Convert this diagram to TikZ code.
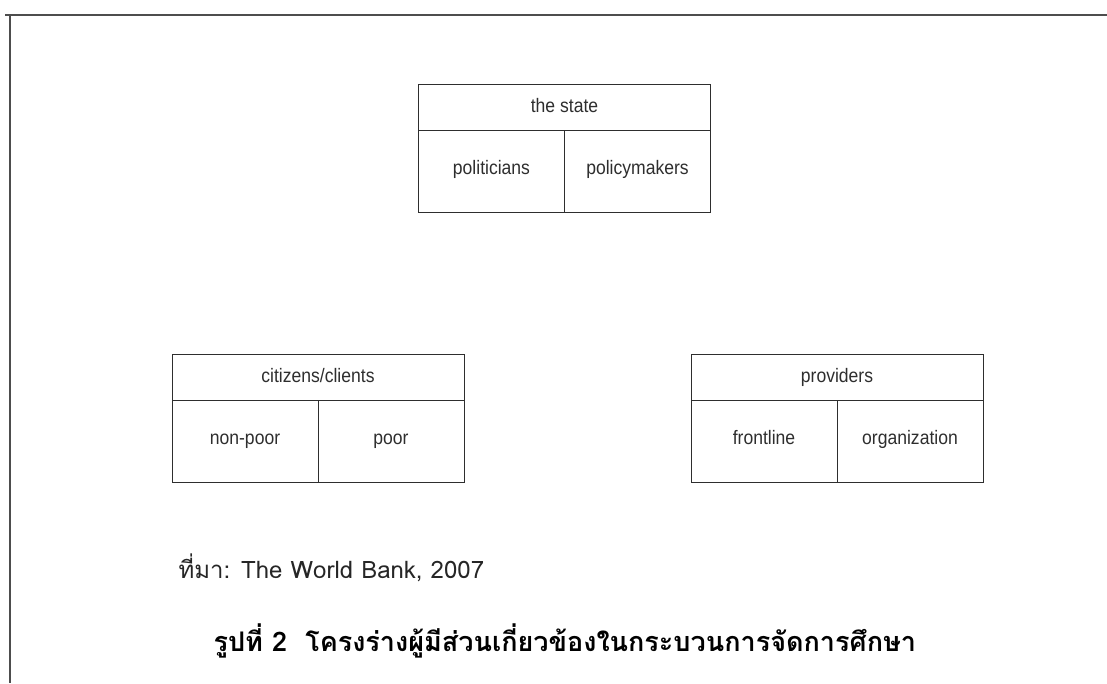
\documentclass[tikz,border=0pt]{standalone}
\usepackage{fontspec}
\setmainfont{Liberation Sans}
\newfontfamily\boxfont[FakeStretch=0.9]{Liberation Sans}
\newfontfamily\thaifont[Script=Thai]{Loma}
\usetikzlibrary{positioning}
\definecolor{framegray}{HTML}{4D4D4D}
\definecolor{boxgray}{HTML}{2E2E2E}
\tikzset{
  actor chart/.style={
    head box/.style={draw=boxgray, line width=0.9pt, minimum width=292pt, minimum height=46pt, inner sep=0pt,
        text=boxgray, text height=1.1em, text depth=0pt, font={\boxfont\fontsize{19.5}{22}\selectfont}},
    cell box/.style={head box, minimum width=146pt, minimum height=82pt, text height=0.8em, text depth=0.22em},
    frame line/.style={draw=framegray, line width=2.4pt},
    source label/.style={anchor=base west, text=black!85, font={\thaifont\fontsize{24}{28}\selectfont}},
    caption label/.style={anchor=base west, text=black, font={\thaifont\bfseries\fontsize{27}{32}\selectfont}},
  },
}
% header box with two cells below it
\newcommand{\actorbox}[5]{
    \node[head box] (#1) at #2 {#3};
    \node[cell box, below right=0pt of #1.south west] (#1 left) {#4};
    \node[cell box, below left=0pt of #1.south east] (#1 right) {#5};
}

\begin{document}
\begin{tikzpicture}[actor chart, x=1pt, y=-1pt]
    \useasboundingbox (0,0) rectangle (1107,683);

    \coordinate (frame start) at (5,15);
    \coordinate (frame corner) at (10,15);
    \coordinate (frame right) at (1107,15);
    \coordinate (frame bottom) at (10,683);
    \draw[frame line] (frame start) -- (frame right);
    \draw[frame line] (frame corner) -- (frame bottom);

    \actorbox{state}{(564.5,107)}{the state}{politicians}{policymakers}
    \actorbox{citizens}{(318,377)}{citizens/clients}{non-poor}{poor}
    \actorbox{providers}{(837,377)}{providers}{frontline}{organization}

    \node[source label] (source) at (175,578) {ที่มา: The World Bank, 2007};
    \node[caption label] (caption) at (210,651) {รูปที่ 2\ \ โครงร่างผู้มีส่วนเกี่ยวข้องในกระบวนการจัดการศึกษา};
\end{tikzpicture}
\end{document}
